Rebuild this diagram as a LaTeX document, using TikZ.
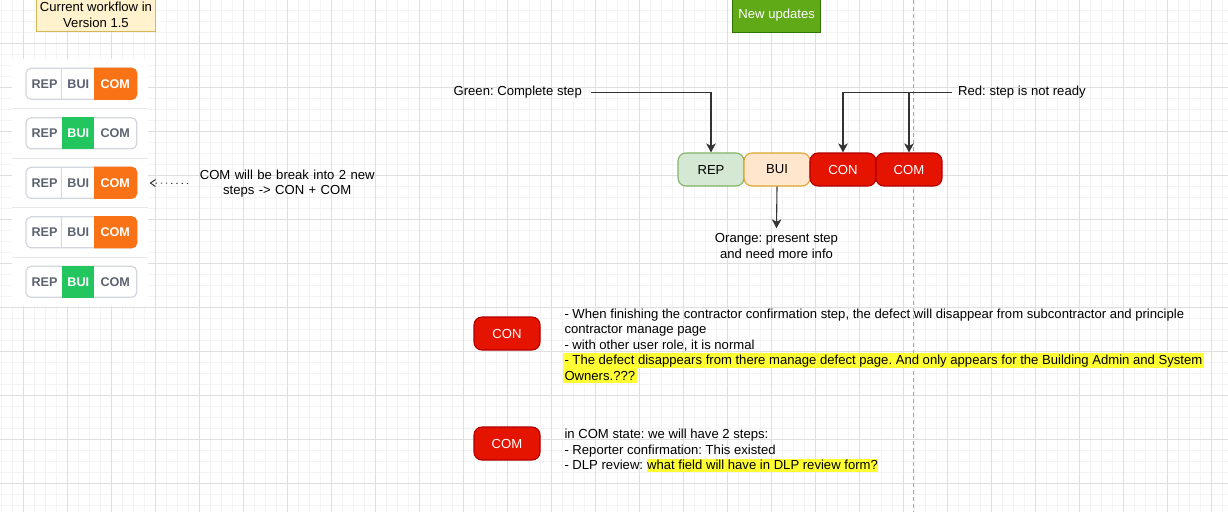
\documentclass[tikz,border=0pt]{standalone}
\usepackage{fontspec}
\setmainfont{Liberation Sans}
\usetikzlibrary{arrows.meta}
\frenchspacing
\definecolor{gridminor}{HTML}{F3F3F3}
\definecolor{gridmajor}{HTML}{DFDFDF}
\definecolor{dashc}{HTML}{A8A8A8}
\definecolor{rowsepc}{HTML}{E6E7EA}
\definecolor{pillborder}{HTML}{D3D6DC}
\definecolor{pilltext}{HTML}{5C6370}
\definecolor{comorange}{HTML}{F97316}
\definecolor{buigreen}{HTML}{22C55E}
\definecolor{notefill}{HTML}{FFF2CC}
\definecolor{notedraw}{HTML}{D6B656}
\definecolor{newfill}{HTML}{60A917}
\definecolor{newdraw}{HTML}{2D7600}
\definecolor{repfill}{HTML}{D5E8D4}
\definecolor{repdraw}{HTML}{82B366}
\definecolor{buifill}{HTML}{FFE6CC}
\definecolor{buidraw}{HTML}{DDA632}
\definecolor{redfill}{HTML}{E51400}
\definecolor{reddraw}{HTML}{B20000}
\definecolor{edgec}{HTML}{333333}
\definecolor{hlyellow}{HTML}{FFFF33}

\tikzset{
  pillbox/.style={draw=pillborder, line width=1.2pt, rounded corners=5pt,
    minimum width=110.7pt, minimum height=31pt, inner sep=0pt},
  pilltxt/.style={inner sep=0pt, text=pilltext,
    font=\bfseries\fontsize{12.6}{14}\selectfont},
  stepbox/.style={rounded corners=8pt, line width=1.1pt, minimum width=66pt,
    minimum height=33pt, inner sep=0pt},
  repstep/.style={stepbox, draw=repdraw, fill=repfill},
  buistep/.style={stepbox, draw=buidraw, fill=buifill},
  redstep/.style={stepbox, draw=reddraw, fill=redfill, text=white},
  flowedge/.style={draw=edgec, line width=1.1pt,
    -{Stealth[length=9pt,width=9.5pt,inset=2.5pt]}},
  dotedge/.style={draw=edgec, line width=1pt, dash pattern=on 1.2pt off 4pt,
    -{Straight Barb[length=5pt,width=7pt]}},
  desc/.style={anchor=base west, inner sep=0pt},
  deschl/.style={anchor=base west, inner xsep=1.6pt, inner ysep=0pt,
    fill=hlyellow, text height=12pt, text depth=3pt},
}

\newcommand\mypillcom[2]{%
  \node[pillbox] (#1) at (81.35,#2) {};
  \begin{scope}
    \clip[rounded corners=5.5pt] (25.4,{#2-16.1}) rectangle (137.3,{#2+16.1});
    \fill[comorange] (93.7,{#2-17}) rectangle (138,{#2+17});
  \end{scope}
  \draw[pillborder, line width=1.1pt] (61.7,{#2-15.5}) -- (61.7,{#2+15.5});
  \node[pilltxt] (#1rep) at (44.6,#2) {REP};
  \node[pilltxt] (#1bui) at (78.3,#2) {BUI};
  \node[pilltxt, text=white] (#1com) at (115.2,#2) {COM};
}
\newcommand\mypillbui[2]{%
  \node[pillbox] (#1) at (81.35,#2) {};
  \fill[buigreen] (61.7,{#2-16.1}) rectangle (93.7,{#2+16.1});
  \node[pilltxt] (#1rep) at (44.6,#2) {REP};
  \node[pilltxt, text=white] (#1bui) at (78.3,#2) {BUI};
  \node[pilltxt] (#1com) at (115.2,#2) {COM};
}

\begin{document}
\begin{tikzpicture}[x=1pt,y=-1pt,font=\fontsize{13.1}{15.7}\selectfont]
\useasboundingbox (0,0) rectangle (1228,512);
\fill[white] (0,0) rectangle (1228,512);

% grid
\foreach \i in {0,...,111} \draw[gridminor, line width=1pt] ({1.3+11*\i},0) -- ++(0,512);
\foreach \j in {0,...,47} \draw[gridminor, line width=1pt] (0,{-0.7+11*\j}) -- ++(1228,0);
\foreach \i in {0,...,27} \draw[gridmajor, line width=1pt] ({23.3+44*\i},0) -- ++(0,512);
\foreach \j in {0,...,10} \draw[gridmajor, line width=1pt] (0,{43.3+44*\j}) -- ++(1228,0);

% dashed divider
\draw[dashc, line width=1pt, dash pattern=on 4pt off 3pt] (913,0) -- (913,512);

% left panel
\fill[white] (11.7,59) rectangle (148,306);
\foreach \yy in {108.3,158.3,207.3,257.3}
  \draw[rowsepc, line width=1pt] (11.7,\yy) -- (148,\yy);

\mypillcom{pa}{83.8}
\mypillbui{pb}{133.3}
\mypillcom{pc}{182.8}
\mypillcom{pd}{232.3}
\mypillbui{pe}{281.8}

% title notes
\node[draw=notedraw, fill=notefill, line width=1pt, minimum width=119.4pt,
  minimum height=34pt, align=center, inner sep=0pt] (cwf) at (96,14.8)
  {Current workflow in\\Version 1.5};
\node[draw=newdraw, fill=newfill, text=white, line width=1pt, minimum width=88.5pt,
  minimum height=34pt, inner sep=0pt] (newup) at (776.7,15.5) {New updates};

% note about COM
\node[anchor=west, text width=198pt, inner xsep=0pt, align=center] (comnote)
  at (188,183.5) {COM will be break into 2 new\\steps -> CON + COM};
\draw[dotedge, shorten >=12.3pt] (comnote.west) -- (pc.east);

% new workflow steps
\node[repstep] (rep) at (711,169.5) {REP};
\node[buistep] (bui) at (777,169.5) {BUI};
\node[redstep] (con) at (843,169.5) {CON};
\node[redstep] (com) at (909,169.5) {COM};

\node[anchor=east, inner xsep=8.7pt] (green) at (590.7,92.3) {Green: Complete step};
\node[anchor=west, inner xsep=6.5pt] (red) at (951.5,92.6) {Red: step is not ready};
\node[anchor=north, align=center, inner ysep=5pt] (orange) at (776.5,228.3)
  {Orange: present step\\and need more info};

\draw[flowedge] (green.east) -| (rep.north);
\draw[flowedge] (red.west) -| (con.north);
\draw[flowedge] (red.west) -| (com.north);
\draw[flowedge] (bui.south) -- (orange.north);

% explanations
\node[redstep] (conb) at (507,333.5) {CON};
\node[redstep] (comb) at (507,443.5) {COM};

\node[desc] (d1) at (564.3,318) {- When finishing the contractor confirmation step, the defect will disappear from subcontractor and principle};
\node[desc] (d2) at (564.3,333.6) {contractor manage page};
\node[desc] (d3) at (564.3,349.2) {- with other user role, it is normal};
\node[deschl] (d4) at (562.7,364.9) {- The defect disappears from there manage defect page. And only appears for the Building Admin and System};
\node[deschl] (d5) at (562.7,380.3) {Owners.???};

\node[desc] (e1) at (564.3,438.5) {in COM state: we will have 2 steps:};
\node[desc] (e2) at (564.3,454) {- Reporter confirmation: This existed};
\node[desc] (e3) at (564.3,469.6) {- DLP review:};
\node[anchor=base west, inner xsep=0.3pt, inner ysep=0pt, fill=hlyellow,
  text height=10.5pt, text depth=2.2pt] (e3h) at (646.6,469.6)
  {what field will have in DLP review form?};
\end{tikzpicture}
\end{document}
